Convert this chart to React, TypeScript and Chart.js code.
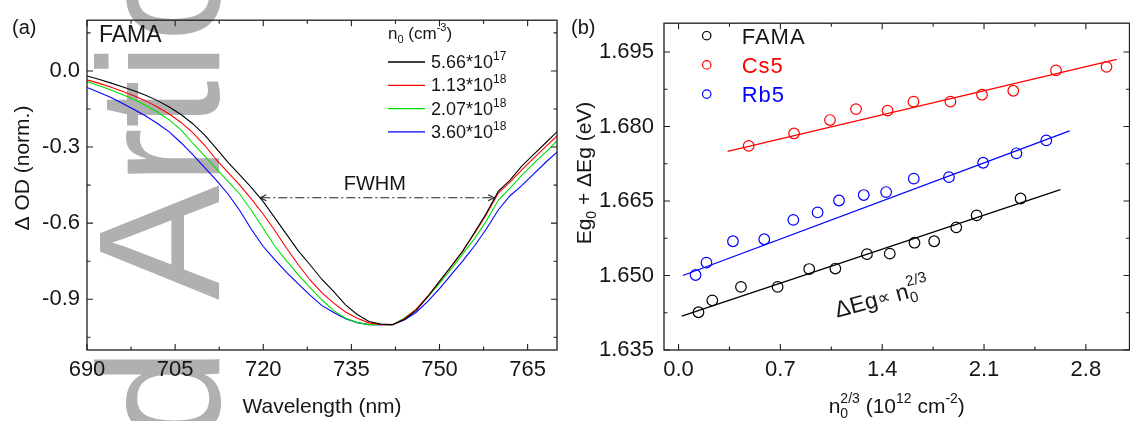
import React, { useEffect, useRef } from "react";
import { Chart, registerables } from "chart.js";
Chart.register(...registerables);

const FONT = '"Liberation Sans", Arial, sans-serif';
const INK = "#161616";
const AXIS = "#1e1e1e";

// ---------------- Panel (a) data ----------------
const wavelengthNm = [690, 692, 694, 696, 698, 700, 702, 704, 706, 708, 710, 712, 714, 716, 718, 720, 722, 724, 726, 728, 730, 732, 734, 736, 738, 740, 742, 744, 746, 748, 750, 752, 754, 756, 758, 760, 762, 764, 766, 768, 770];
const od566e17 = [-0.02, -0.033, -0.047, -0.062, -0.078, -0.096, -0.117, -0.142, -0.172, -0.208, -0.252, -0.305, -0.36, -0.41, -0.46, -0.515, -0.58, -0.645, -0.71, -0.765, -0.822, -0.87, -0.922, -0.96, -0.988, -0.998, -1.0, -0.98, -0.945, -0.89, -0.83, -0.77, -0.71, -0.635, -0.56, -0.475, -0.43, -0.375, -0.33, -0.285, -0.24];
const od113e18 = [-0.035, -0.048, -0.063, -0.08, -0.098, -0.118, -0.142, -0.17, -0.203, -0.243, -0.292, -0.35, -0.4, -0.45, -0.505, -0.565, -0.63, -0.7, -0.765, -0.825, -0.875, -0.915, -0.95, -0.975, -0.993, -1.0, -1.0, -0.978, -0.94, -0.888, -0.828, -0.77, -0.707, -0.64, -0.565, -0.482, -0.438, -0.39, -0.345, -0.3, -0.256];
const od207e18 = [-0.042, -0.057, -0.074, -0.093, -0.113, -0.136, -0.162, -0.193, -0.232, -0.285, -0.335, -0.385, -0.435, -0.485, -0.55, -0.62, -0.692, -0.75, -0.805, -0.855, -0.903, -0.945, -0.975, -0.992, -1.0, -1.0, -1.0, -0.975, -0.94, -0.892, -0.837, -0.78, -0.72, -0.66, -0.59, -0.51, -0.462, -0.412, -0.365, -0.322, -0.276];
const od360e18 = [-0.065, -0.084, -0.104, -0.127, -0.152, -0.178, -0.207, -0.24, -0.283, -0.33, -0.38, -0.43, -0.485, -0.55, -0.625, -0.692, -0.745, -0.795, -0.84, -0.885, -0.925, -0.952, -0.977, -0.992, -1.0, -1.0, -1.0, -0.982, -0.952, -0.908, -0.858, -0.803, -0.748, -0.688, -0.622, -0.548, -0.492, -0.452, -0.407, -0.362, -0.32];
const seriesA = [od566e17, od113e18, od207e18, od360e18];
const legendMantissaA = ["5.66*10", "1.13*10", "2.07*10", "3.60*10"];
const legendExpA = ["17", "18", "18", "18"];
const colorsA = ["#000000", "#ff0000", "#00e000", "#0000ff"];
const xTicksA = [690, 705, 720, 735, 750, 765];
const xMinorA = [697.5, 712.5, 727.5, 742.5, 757.5];
const yTicksA = [0, -0.3, -0.6, -0.9];
const yMinorA = [0.15, -0.15, -0.45, -0.75, -1.05];
const fwhmX = [719.5, 759.3];
const fwhmY = -0.5;
const fwhmLabelPos = [739, -0.47];

// ---------------- Panel (b) data ----------------
const famaX = [0.137, 0.232, 0.429, 0.681, 0.898, 1.078, 1.295, 1.452, 1.622, 1.757, 1.909, 2.049, 2.351];
const famaY = [1.6426, 1.645, 1.6477, 1.6477, 1.6513, 1.6514, 1.6543, 1.6544, 1.6566, 1.6569, 1.6597, 1.6621, 1.6655];
const famaFitX = [0.022, 2.625];
const famaFitY = [1.6418, 1.6673];
const cs5X = [0.482, 0.794, 1.041, 1.22, 1.437, 1.615, 1.869, 2.086, 2.301, 2.595, 2.942];
const cs5Y = [1.6761, 1.6786, 1.6813, 1.6835, 1.6832, 1.685, 1.685, 1.6864, 1.6872, 1.6913, 1.692];
const cs5FitX = [0.337, 3.012];
const cs5FitY = [1.675, 1.6935];
const rb5X = [0.117, 0.192, 0.374, 0.589, 0.789, 0.956, 1.103, 1.273, 1.427, 1.617, 1.859, 2.094, 2.323, 2.528];
const rb5Y = [1.6501, 1.6526, 1.6569, 1.6573, 1.6612, 1.6627, 1.6651, 1.6662, 1.6668, 1.6695, 1.6698, 1.6727, 1.6746, 1.6772];
const rb5FitX = [0.03, 2.688];
const rb5FitY = [1.65, 1.6791];
const seriesNamesB = ["FAMA", "Cs5", "Rb5"];
const colorsB = ["#000000", "#ff0000", "#0000ff"];
const xTicksB = [0, 0.7, 1.4, 2.1, 2.8];
const xMinorB = [0.35, 1.05, 1.75, 2.45];
const yTicksB = [1.635, 1.65, 1.665, 1.68, 1.695];
const yMinorB = [1.6425, 1.6575, 1.6725, 1.6875];
const relationPos = [1.09, 1.6415];

type Part = { t: string; size: number; dy?: number; stack?: boolean };

function rich(ctx: CanvasRenderingContext2D, parts: Part[], x: number, y: number, draw: boolean) {
  let cx = x;
  let stackW = 0;
  for (const p of parts) {
    ctx.font = `${p.size}px ${FONT}`;
    const w = ctx.measureText(p.t).width;
    if (draw) ctx.fillText(p.t, cx, y + (p.dy || 0));
    if (p.stack) {
      stackW = w;
      continue;
    }
    cx += Math.max(w, stackW);
    stackW = 0;
  }
  return cx - x;
}

function richCentered(ctx: CanvasRenderingContext2D, parts: Part[], x: number, y: number) {
  const w = rich(ctx, parts, 0, 0, false);
  rich(ctx, parts, x - w / 2, y, true);
}

function drawFrame(chart: any, xMaj: number[], xMin: number[], yMaj: number[], yMin: number[]) {
  const { ctx, chartArea: a, scales } = chart;
  const xs = scales.x;
  const ys = scales.y;
  ctx.save();
  ctx.strokeStyle = AXIS;
  ctx.lineWidth = 1.3;
  ctx.strokeRect(a.left, a.top, a.right - a.left, a.bottom - a.top);
  ctx.lineWidth = 1.1;
  ctx.beginPath();
  const tx = (v: number, len: number) => {
    const p = xs.getPixelForValue(v);
    ctx.moveTo(p, a.bottom);
    ctx.lineTo(p, a.bottom - len);
    ctx.moveTo(p, a.top);
    ctx.lineTo(p, a.top + len);
  };
  const ty = (v: number, len: number) => {
    const p = ys.getPixelForValue(v);
    ctx.moveTo(a.left, p);
    ctx.lineTo(a.left + len, p);
    ctx.moveTo(a.right, p);
    ctx.lineTo(a.right - len, p);
  };
  xMaj.forEach((v) => tx(v, 6));
  xMin.forEach((v) => tx(v, 3.5));
  yMaj.forEach((v) => ty(v, 6));
  yMin.forEach((v) => ty(v, 3.5));
  ctx.stroke();
  ctx.restore();
}

const panelAPlugin = {
  id: "panelA",
  beforeDraw(chart: any) {
    const ctx: CanvasRenderingContext2D = chart.ctx;
    ctx.save();
    ctx.translate(219, 300);
    ctx.rotate(-Math.PI / 2);
    ctx.font = `172px ${FONT}`;
    ctx.fillStyle = "#b0b0b0";
    ctx.textBaseline = "alphabetic";
    ctx.textAlign = "left";
    ctx.fillText("Article", 0, 0);
    ctx.textAlign = "right";
    ctx.fillText("Accepted ", 0, 0);
    ctx.restore();
  },
  afterDraw(chart: any) {
    drawFrame(chart, xTicksA, xMinorA, yTicksA, yMinorA);
    const ctx: CanvasRenderingContext2D = chart.ctx;
    const xs = chart.scales.x;
    const ys = chart.scales.y;
    const a = chart.chartArea;
    ctx.save();
    ctx.fillStyle = INK;
    ctx.textAlign = "left";
    ctx.textBaseline = "alphabetic";
    ctx.font = `20px ${FONT}`;
    ctx.fillText("(a)", 12, 34);
    ctx.font = `23px ${FONT}`;
    ctx.fillText("FAMA", 99, 42);

    // legend
    rich(ctx, [
      { t: "n", size: 17 },
      { t: "0", size: 11, dy: 4 },
      { t: " (cm", size: 17 },
      { t: "-3", size: 11, dy: -8 },
      { t: ")", size: 17 },
    ], 388, 39, true);
    for (let i = 0; i < 4; i++) {
      const y = 62 + i * 23.3;
      ctx.strokeStyle = colorsA[i];
      ctx.lineWidth = 1.3;
      ctx.beginPath();
      ctx.moveTo(388, y);
      ctx.lineTo(425, y);
      ctx.stroke();
      ctx.fillStyle = INK;
      rich(ctx, [
        { t: legendMantissaA[i], size: 18 },
        { t: legendExpA[i], size: 12, dy: -8 },
      ], 431, y + 6, true);
    }

    // FWHM arrow
    const x1 = xs.getPixelForValue(fwhmX[0]);
    const x2 = xs.getPixelForValue(fwhmX[1]);
    const yy = ys.getPixelForValue(fwhmY);
    ctx.strokeStyle = "#222";
    ctx.lineWidth = 1.1;
    ctx.setLineDash([9, 3, 2, 3]);
    ctx.beginPath();
    ctx.moveTo(x1 + 1, yy);
    ctx.lineTo(x2 - 1, yy);
    ctx.stroke();
    ctx.setLineDash([]);
    ctx.beginPath();
    ctx.moveTo(x1 + 6, yy - 3);
    ctx.lineTo(x1, yy);
    ctx.lineTo(x1 + 6, yy + 3);
    ctx.moveTo(x2 - 6, yy - 3);
    ctx.lineTo(x2, yy);
    ctx.lineTo(x2 - 6, yy + 3);
    ctx.stroke();
    ctx.fillStyle = INK;
    ctx.font = `20px ${FONT}`;
    ctx.textAlign = "center";
    ctx.fillText("FWHM", xs.getPixelForValue(fwhmLabelPos[0]), ys.getPixelForValue(fwhmLabelPos[1]));

    // axis titles
    ctx.font = `21px ${FONT}`;
    ctx.fillText("Wavelength (nm)", (a.left + a.right) / 2, 413);
    ctx.save();
    ctx.translate(29, 168);
    ctx.rotate(-Math.PI / 2);
    ctx.fillText("Δ OD (norm.)", 0, 0);
    ctx.restore();
    ctx.restore();
  },
};

const B_OFFSET = 564;

const panelBPlugin = {
  id: "panelB",
  afterDraw(chart: any) {
    drawFrame(chart, xTicksB, xMinorB, yTicksB, yMinorB);
    const ctx: CanvasRenderingContext2D = chart.ctx;
    const xs = chart.scales.x;
    const ys = chart.scales.y;
    const a = chart.chartArea;
    ctx.save();
    ctx.fillStyle = INK;
    ctx.textAlign = "left";
    ctx.textBaseline = "alphabetic";
    ctx.font = `20px ${FONT}`;
    ctx.fillText("(b)", 571 - B_OFFSET, 34);

    // legend
    for (let i = 0; i < 3; i++) {
      const y = 35.7 + i * 29.2;
      ctx.strokeStyle = colorsB[i];
      ctx.lineWidth = 1.2;
      ctx.beginPath();
      ctx.arc(706.7 - B_OFFSET, y, 4.2, 0, Math.PI * 2);
      ctx.stroke();
      ctx.fillStyle = i === 0 ? INK : colorsB[i];
      ctx.font = `22px ${FONT}`;
      (ctx as any).letterSpacing = "1px";
      ctx.fillText(seriesNamesB[i], 741.7 - B_OFFSET, y + 8);
      (ctx as any).letterSpacing = "0px";
    }

    // relation label
    ctx.fillStyle = INK;
    ctx.save();
    ctx.translate(xs.getPixelForValue(relationPos[0]), ys.getPixelForValue(relationPos[1]));
    ctx.rotate(-15 * Math.PI / 180);
    rich(ctx, [
      { t: "ΔEg", size: 23 },
      { t: "∝", size: 18, dy: -2 },
      { t: " n", size: 23 },
      { t: "0", size: 15, dy: 5, stack: true },
      { t: "2/3", size: 15, dy: -12 },
    ], 0, 0, true);
    ctx.restore();

    // axis titles
    richCentered(ctx, [
      { t: "n", size: 21 },
      { t: "0", size: 14, dy: 5, stack: true },
      { t: "2/3", size: 14, dy: -10 },
      { t: " (10", size: 21 },
      { t: "12", size: 14, dy: -10 },
      { t: " cm", size: 21 },
      { t: "-2", size: 14, dy: -10 },
      { t: ")", size: 21 },
    ], (a.left + a.right) / 2, 413);
    ctx.save();
    ctx.translate(583.7 - B_OFFSET + 7, 173);
    ctx.rotate(-Math.PI / 2);
    richCentered(ctx, [
      { t: "Eg", size: 21 },
      { t: "0", size: 14, dy: 5 },
      { t: " + ΔEg (eV)", size: 21 },
    ], 0, 0);
    ctx.restore();
    ctx.restore();
  },
};

function tickFont() {
  return { family: FONT, size: 22 };
}

export default function App() {
  const refA = useRef<HTMLCanvasElement>(null);
  const refB = useRef<HTMLCanvasElement>(null);

  useEffect(() => {
    document.body.style.margin = "0";
    const chartA = new Chart(refA.current as HTMLCanvasElement, {
      type: "line",
      data: {
        datasets: seriesA.map((s, i) => ({
          data: wavelengthNm.map((w, j) => ({ x: w, y: s[j] })),
          borderColor: colorsA[i],
          borderWidth: 1.1,
          pointRadius: 0,
          tension: 0,
          fill: false,
        })),
      },
      options: {
        responsive: false,
        maintainAspectRatio: false,
        animation: false,
        events: [],
        layout: { padding: { left: 0, right: 8, top: 13, bottom: 0 } },
        plugins: { legend: { display: false }, tooltip: { enabled: false } },
        scales: {
          x: {
            type: "linear",
            min: 690,
            max: 770,
            grid: { display: false, drawTicks: false },
            border: { display: false },
            afterBuildTicks: (s: any) => {
              s.ticks = xTicksA.map((v) => ({ value: v }));
            },
            afterFit: (s: any) => {
              s.height = 71;
            },
            ticks: { font: tickFont(), color: INK, padding: 7, maxRotation: 0, autoSkip: false, callback: (v: any) => String(v) },
          },
          y: {
            type: "linear",
            min: -1.1,
            max: 0.2,
            grid: { display: false, drawTicks: false },
            border: { display: false },
            afterBuildTicks: (s: any) => {
              s.ticks = yTicksA.map((v) => ({ value: v }));
            },
            afterFit: (s: any) => {
              s.width = 87;
            },
            ticks: { font: tickFont(), color: INK, padding: 7, autoSkip: false, callback: (v: any) => Number(v).toFixed(1) },
          },
        },
      },
      plugins: [panelAPlugin],
    } as any);

    const pts = (xs: number[], ys: number[]) => xs.map((x, i) => ({ x, y: ys[i] }));
    const scatterSet = (xs: number[], ys: number[], c: string) => ({
      type: "scatter",
      data: pts(xs, ys),
      borderColor: c,
      backgroundColor: "rgba(0,0,0,0)",
      borderWidth: 1.2,
      pointRadius: 5.3,
      pointStyle: "circle",
      showLine: false,
    });
    const fitSet = (xs: number[], ys: number[], c: string) => ({
      type: "line",
      data: pts(xs, ys),
      borderColor: c,
      borderWidth: 1.3,
      pointRadius: 0,
      showLine: true,
      fill: false,
    });

    const chartB = new Chart(refB.current as HTMLCanvasElement, {
      type: "scatter",
      data: {
        datasets: [
          fitSet(famaFitX, famaFitY, colorsB[0]),
          fitSet(cs5FitX, cs5FitY, colorsB[1]),
          fitSet(rb5FitX, rb5FitY, colorsB[2]),
          scatterSet(famaX, famaY, colorsB[0]),
          scatterSet(cs5X, cs5Y, colorsB[1]),
          scatterSet(rb5X, rb5Y, colorsB[2]),
        ],
      },
      options: {
        responsive: false,
        maintainAspectRatio: false,
        animation: false,
        events: [],
        layout: { padding: { left: 0, right: 3, top: 13, bottom: 0 } },
        plugins: { legend: { display: false }, tooltip: { enabled: false } },
        scales: {
          x: {
            type: "linear",
            min: -0.1,
            max: 3.1,
            grid: { display: false, drawTicks: false },
            border: { display: false },
            afterBuildTicks: (s: any) => {
              s.ticks = xTicksB.map((v) => ({ value: v }));
            },
            afterFit: (s: any) => {
              s.height = 71;
            },
            ticks: { font: tickFont(), color: INK, padding: 7, maxRotation: 0, autoSkip: false, callback: (v: any) => Number(v).toFixed(1) },
          },
          y: {
            type: "linear",
            min: 1.635,
            max: 1.7008,
            grid: { display: false, drawTicks: false },
            border: { display: false },
            afterBuildTicks: (s: any) => {
              s.ticks = yTicksB.map((v) => ({ value: v }));
            },
            afterFit: (s: any) => {
              s.width = 100;
            },
            ticks: { font: tickFont(), color: INK, padding: 10, autoSkip: false, callback: (v: any) => Number(v).toFixed(3) },
          },
        },
      },
      plugins: [panelBPlugin],
    } as any);

    return () => {
      chartA.destroy();
      chartB.destroy();
    };
  }, []);

  return (
    <div style={{ position: "fixed", left: 0, top: 0, width: 1130, height: 421, overflow: "hidden", background: "#fff" }}>
      <canvas ref={refA} width={565} height={421} style={{ position: "absolute", left: 0, top: 0, width: 565, height: 421 }} />
      <canvas ref={refB} width={572} height={421} style={{ position: "absolute", left: B_OFFSET, top: 0, width: 572, height: 421 }} />
    </div>
  );
}
